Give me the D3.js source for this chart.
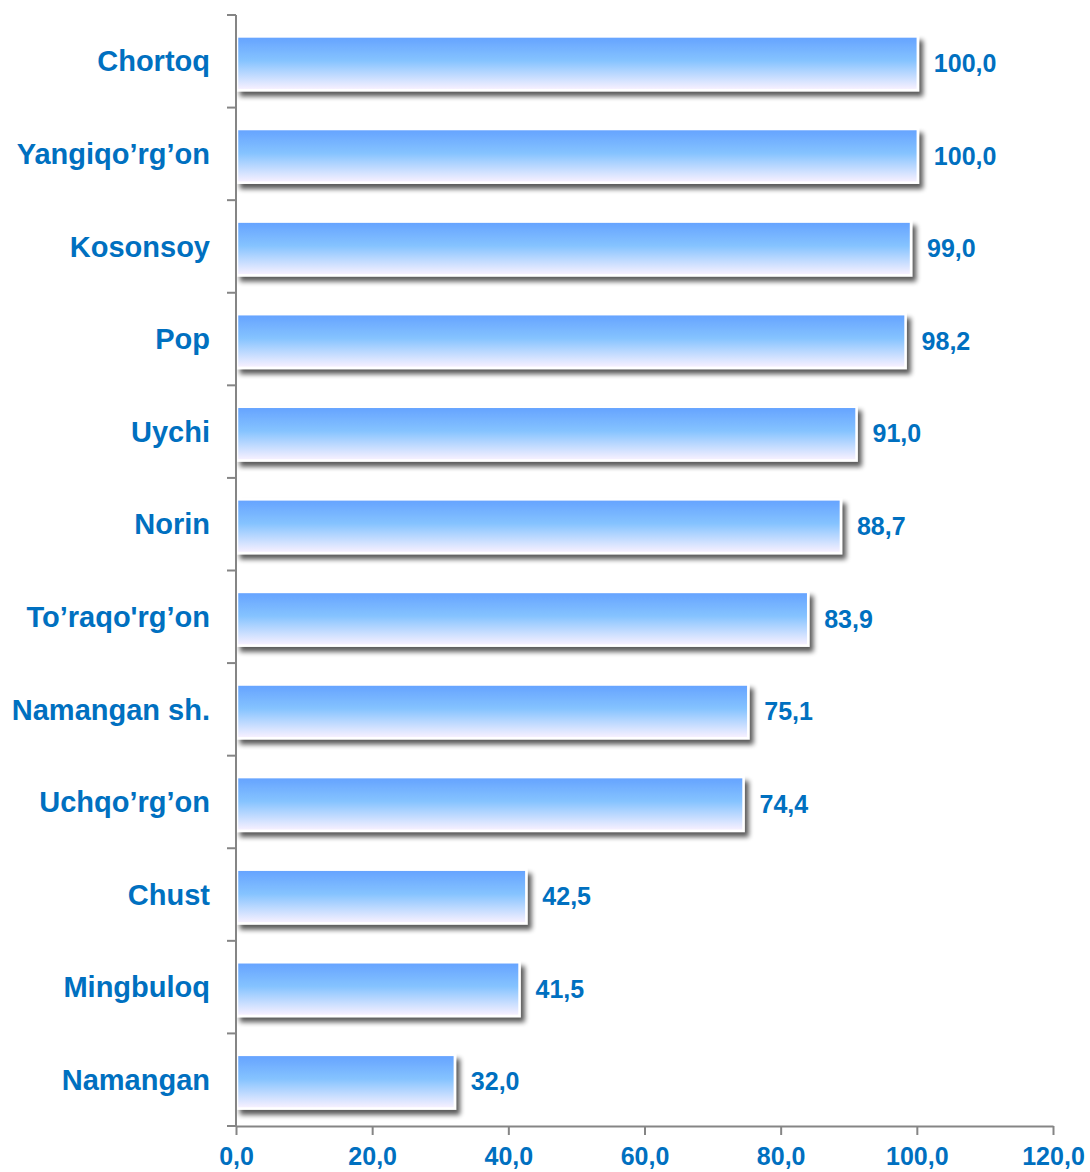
<!DOCTYPE html>
<html><head><meta charset="utf-8">
<script src="https://cdn.jsdelivr.net/npm/d3@7"></script>
<style>body{margin:0;background:#fff}svg{display:block}text{font-family:"Liberation Sans",Arial,sans-serif;font-weight:bold;fill:#0070c0}</style>
</head><body>
<script>
const categories = ["Chortoq","Yangiqo’rg’on","Kosonsoy","Pop","Uychi","Norin","To’raqo'rg’on","Namangan sh.","Uchqo’rg’on","Chust","Mingbuloq","Namangan"];
const values = [100.0,100.0,99.0,98.2,91.0,88.7,83.9,75.1,74.4,42.5,41.5,32.0];
const xTicks = [0,20,40,60,80,100,120];

const W=1090,H=1172;
const svg=d3.select("body").append("svg").attr("width",W).attr("height",H);
const x=d3.scaleLinear().domain([0,120]).range([236,1053]);
const y=d3.scaleBand().domain(categories).range([15,1126]).paddingInner(0.42).paddingOuter(0.21);
const fmt=v=>d3.format(".1f")(v).replace(".",",");

const defs=svg.append("defs");
const g=defs.append("linearGradient").attr("id","bg").attr("x1",0).attr("y1",0).attr("x2",0).attr("y2",1);
g.append("stop").attr("offset","0%").attr("stop-color","#64a2ff");
g.append("stop").attr("offset","45%").attr("stop-color","#85c3ff");
g.append("stop").attr("offset","100%").attr("stop-color","#fbf2ff");
const f=defs.append("filter").attr("id","sh").attr("x","-5%").attr("y","-30%").attr("width","115%").attr("height","170%");
f.append("feGaussianBlur").attr("in","SourceAlpha").attr("stdDeviation",2.5).attr("result","b");
f.append("feOffset").attr("in","b").attr("dx",4).attr("dy",5).attr("result","o");
f.append("feComponentTransfer").attr("in","o").attr("result","o2").append("feFuncA").attr("type","linear").attr("slope",0.65);
const m=f.append("feMerge");m.append("feMergeNode").attr("in","o2");m.append("feMergeNode").attr("in","SourceGraphic");

svg.append("g").selectAll("rect").data(values).join("rect")
  .attr("x",x(0)+1).attr("y",(d,i)=>y(categories[i])+2)
  .attr("width",d=>x(d)-x(0)).attr("height",y.bandwidth())
  .attr("fill","url(#bg)").attr("stroke","#ffffff").attr("stroke-width",2.5)
  .attr("filter","url(#sh)");

svg.append("g").selectAll("text").data(values).join("text")
  .attr("x",d=>x(d)+17).attr("y",(d,i)=>y(categories[i])+2+y.bandwidth()/2)
  .attr("dy","0.35em").style("font-size","25px").text(d=>fmt(d));

// y axis
const ya=svg.append("g");
ya.append("line").attr("x1",236).attr("x2",236).attr("y1",15).attr("y2",1126).attr("stroke","#858585").attr("stroke-width",2);
const edges=d3.range(categories.length+1).map(i=>15+i*(1111/categories.length));
ya.selectAll("line.t").data(edges).join("line").attr("class","t")
  .attr("x1",227).attr("x2",236).attr("y1",d=>d).attr("y2",d=>d).attr("stroke","#858585").attr("stroke-width",2);
ya.selectAll("text").data(categories).join("text")
  .attr("x",210).attr("y",(c,i)=>(edges[i]+edges[i+1])/2).attr("dy","0.35em")
  .attr("text-anchor","end").style("font-size","29px").text(c=>c);

// x axis
const xa=svg.append("g").attr("transform","translate(0,1126)")
  .call(d3.axisBottom(x).tickValues(xTicks).tickSize(9).tickSizeOuter(0).tickFormat(fmt));
xa.select(".domain").attr("stroke","#858585").attr("stroke-width",2);
xa.selectAll(".tick line").attr("stroke","#858585").attr("stroke-width",2);
xa.selectAll(".tick text").attr("fill","#0070c0").style("font-size","25px").style("font-family","Liberation Sans, Arial, sans-serif").style("font-weight","bold").attr("y",39).attr("dy","0");
</script>
</body></html>
